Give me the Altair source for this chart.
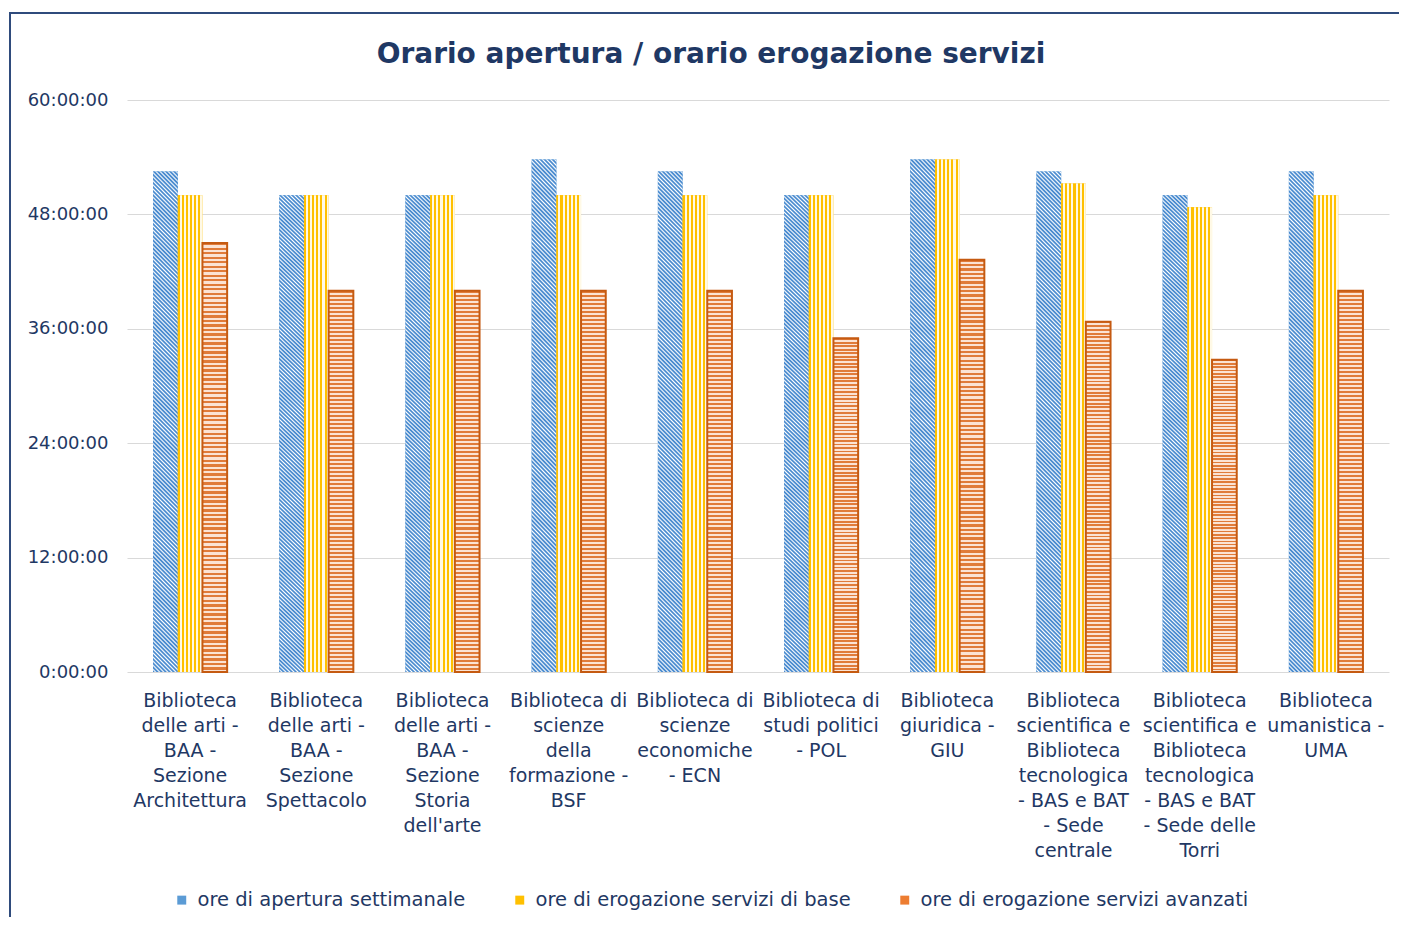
import altair as alt
import pandas as pd

# ---------------- data ----------------
categorie = [
    "Biblioteca|delle arti -|BAA -|Sezione|Architettura",
    "Biblioteca|delle arti -|BAA -|Sezione|Spettacolo",
    "Biblioteca|delle arti -|BAA -|Sezione|Storia|dell'arte",
    "Biblioteca di|scienze|della|formazione -|BSF",
    "Biblioteca di|scienze|economiche|- ECN",
    "Biblioteca di|studi politici|- POL",
    "Biblioteca|giuridica -|GIU",
    "Biblioteca|scientifica e|Biblioteca|tecnologica|- BAS e BAT|- Sede|centrale",
    "Biblioteca|scientifica e|Biblioteca|tecnologica|- BAS e BAT|- Sede delle|Torri",
    "Biblioteca|umanistica -|UMA",
]
serie = [
    "ore di apertura settimanale",
    "ore di erogazione servizi di base",
    "ore di erogazione servizi avanzati",
]
ore_apertura = [52.5, 50, 50, 53.75, 52.5, 50, 53.75, 52.5, 50, 52.5]
ore_base = [50, 50, 50, 50, 50, 50, 53.75, 51.25, 48.75, 50]
ore_avanzati = [45, 40, 40, 40, 40, 35, 43.25, 36.75, 32.75, 40]
y_ticks = [0, 12, 24, 36, 48, 60]

rows = []
for i, c in enumerate(categorie):
    for s, vals in zip(serie, [ore_apertura, ore_base, ore_avanzati]):
        rows.append({"categoria": c, "serie": s, "ore": vals[i]})
df = pd.DataFrame(rows)

# ---------------- styles ----------------
NAVY = "#1F3864"
BLUE = "#5B9BD5"
YELLOW = "#FFC000"
ORANGE = "#ED7D31"
ORANGE_DARK = "#C55A11"
FONT = "DejaVu Sans"


def stripes(c1, c2, n, x1, y1, x2, y2, frac=0.5):
    stops = []
    for i in range(n):
        a = i / n
        b = (i + frac) / n
        c = (i + 1) / n
        stops += [
            {"offset": round(a, 5), "color": c1},
            {"offset": round(b, 5), "color": c1},
            {"offset": round(b, 5), "color": c2},
            {"offset": round(c, 5), "color": c2},
        ]
    return {"gradient": "linear", "x1": x1, "y1": y1, "x2": x2, "y2": y2, "stops": stops}


def soft_stripes(c1, c2, n, x1, y1, x2, y2, hold=0.25, peak=0.62):
    stops = []
    for i in range(n):
        stops += [
            {"offset": round(i / n, 5), "color": c1},
            {"offset": round((i + hold) / n, 5), "color": c1},
            {"offset": round((i + peak) / n, 5), "color": c2},
        ]
    stops.append({"offset": 1, "color": c1})
    return {"gradient": "linear", "x1": x1, "y1": y1, "x2": x2, "y2": y2, "stops": stops}


# diagonal stripes for tall narrow bars (h/w ~ 20)
_a = 21 / 401
grad_blue = soft_stripes("#4A8BCF", "#FFFFFF", 128, 0, 1, round(_a, 5), round(1 - 20 * _a, 5))
grad_yellow = stripes(YELLOW, "#FFF9E6", 6, 0, 0, 1, 0, 0.5)
grad_orange = stripes("#E07B39", "#FBE3D3", 95, 0, 0, 0, 1, 0.5)

x_enc = alt.X(
    "categoria:N",
    sort=categorie,
    scale=alt.Scale(paddingInner=0.413, paddingOuter=0.2065),
    axis=alt.Axis(
        title=None,
        labelExpr="split(datum.label, '|')",
        labelAngle=0,
        labelFontSize=19,
        labelLineHeight=25,
        labelColor=NAVY,
        labelPadding=19,
        labelLimit=0,
        labelOverlap=False,
        ticks=False,
        domain=False,
    ),
)
y_enc = alt.Y(
    "ore:Q",
    scale=alt.Scale(domain=[0, 60], nice=False),
    axis=alt.Axis(
        title=None,
        values=y_ticks,
        labelExpr="datum.value + ':00:00'",
        labelFontSize=18,
        labelColor=NAVY,
        labelPadding=19,
        ticks=False,
        tickSize=0,
        domain=False,
        gridColor="#D9D9D9",
        gridWidth=1.2,
    ),
)
xo_enc = alt.XOffset("serie:N", sort=serie, scale=alt.Scale(domain=serie))

base = alt.Chart(df).encode(x=x_enc, y=y_enc, xOffset=xo_enc)

legend_layer = base.mark_bar().encode(
    color=alt.Color(
        "serie:N",
        sort=serie,
        scale=alt.Scale(domain=serie, range=[BLUE, YELLOW, ORANGE]),
        legend=alt.Legend(
            title=None,
            orient="none",
            legendX=45,
            legendY=790,
            direction="horizontal",
            columns=3,
            columnPadding=44,
            labelFontSize=19.5,
            labelColor=NAVY,
            labelLimit=0,
            symbolType="square",
            symbolSize=80,
            symbolStrokeWidth=0,
            labelOffset=6,
            padding=0,
        ),
    )
)

blue_layer = base.transform_filter(alt.datum.serie == serie[0]).mark_bar(fill=grad_blue)
yellow_layer = base.transform_filter(alt.datum.serie == serie[1]).mark_bar(fill=grad_yellow)
orange_layer = base.transform_filter(alt.datum.serie == serie[2]).mark_bar(
    fill=grad_orange, stroke=ORANGE_DARK, strokeWidth=2
)

frame = alt.Chart(pd.DataFrame({"f": [0]})).mark_rect(
    filled=False, stroke="#2F4B7C", strokeWidth=2
).encode(
    x=alt.value(-117), x2=alt.value(1400), y=alt.value(-87), y2=alt.value(1000)
)

chart = (
    alt.layer(frame, legend_layer, blue_layer, yellow_layer, orange_layer)
    .properties(
        width=1262,
        height=572,
        padding={"left": 119, "top": 92, "right": 10, "bottom": 245},
        autosize=alt.AutoSizeParams(type="none"),
        title=alt.TitleParams(
            "Orario apertura / orario erogazione servizi",
            fontSize=28,
            fontWeight="bold",
            color=NAVY,
            anchor="middle",
            dx=-47,
            offset=-57,
        ),
    )
    .configure(font=FONT)
    .configure_view(strokeWidth=0)
)

chart.save("out.html", embed_options={"renderer": "svg", "actions": False})
